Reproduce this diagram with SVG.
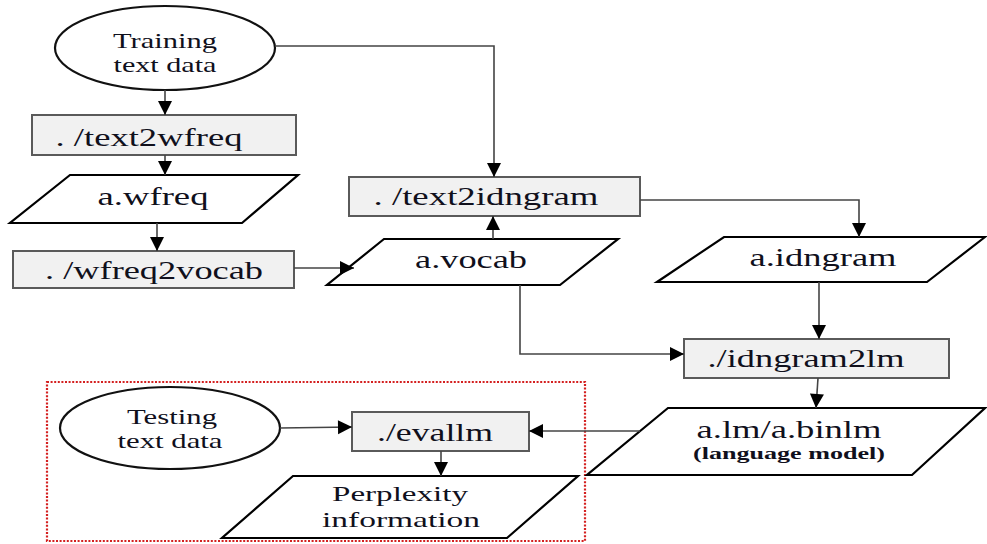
<svg xmlns="http://www.w3.org/2000/svg" width="987" height="544" viewBox="0 0 987 544" font-family="'Liberation Serif', Tinos, 'Times New Roman', Times, serif">
  <defs>
    <marker id="arrow" markerUnits="userSpaceOnUse" markerWidth="16" markerHeight="16" viewBox="0 0 16 16" refX="15" refY="8" orient="auto">
      <path d="M1,1 L15,8 L1,15 Z" fill="#000"/>
    </marker>
    <style>
      text { font-family: 'Liberation Serif', Tinos, 'Times New Roman', Times, serif; fill: #10101c; text-anchor: middle; }
      .lbl { font-size: 26px; }
      .sm { font-size: 22px; }
      .note { font-size: 17px; font-weight: bold; }
      .proc { fill: #f1f1f1; stroke: #5a5a5a; stroke-width: 2; }
      .data { fill: #fff; stroke: #000; stroke-width: 2.2; stroke-linejoin: miter; }
      .term { fill: #fff; stroke: #111; stroke-width: 2.2; }
      .conn { fill: none; stroke: #444; stroke-width: 1.6; marker-end: url(#arrow); }
      .group { fill: none; stroke: #d42020; stroke-width: 2.2; stroke-dasharray: 2 1.6; }
    </style>
  </defs>

  <rect id="test-region" class="group" x="47" y="382" width="538" height="159"/>

  <g id="training-data">
    <ellipse class="term" cx="165" cy="48" rx="110" ry="42"/>
    <text class="sm" x="165" y="48" textLength="104" lengthAdjust="spacingAndGlyphs">Training</text>
    <text class="sm" x="165" y="72" textLength="103" lengthAdjust="spacingAndGlyphs">text data</text>
  </g>

  <g id="text2wfreq">
    <rect class="proc" x="32" y="115" width="264" height="40"/>
    <text class="lbl" x="149" y="146" textLength="187" lengthAdjust="spacingAndGlyphs">. /text2wfreq</text>
  </g>

  <g id="wfreq">
    <polygon class="data" points="70,175 298,175 242,223 10,223"/>
    <text class="lbl" x="153" y="205" textLength="111" lengthAdjust="spacingAndGlyphs">a.wfreq</text>
  </g>

  <g id="wfreq2vocab">
    <rect class="proc" x="13" y="251" width="281" height="37"/>
    <text class="lbl" x="154" y="279" textLength="218" lengthAdjust="spacingAndGlyphs">. /wfreq2vocab</text>
  </g>

  <g id="text2idngram">
    <rect class="proc" x="349" y="177" width="291" height="39"/>
    <text class="lbl" x="486" y="205" textLength="225" lengthAdjust="spacingAndGlyphs">. /text2idngram</text>
  </g>

  <g id="vocab">
    <polygon class="data" points="384,239 618,239 560,285 327,285"/>
    <text class="lbl" x="471" y="268" textLength="112" lengthAdjust="spacingAndGlyphs">a.vocab</text>
  </g>

  <g id="idngram">
    <polygon class="data" points="724,237 985,237 927,282 657,282"/>
    <text class="lbl" x="823" y="266" textLength="147" lengthAdjust="spacingAndGlyphs">a.idngram</text>
  </g>

  <g id="idngram2lm">
    <rect class="proc" x="684" y="339" width="265" height="39"/>
    <text class="lbl" x="806" y="367" textLength="197" lengthAdjust="spacingAndGlyphs">./idngram2lm</text>
  </g>

  <g id="language-model">
    <polygon class="data" points="668,408 985,408 912,475 587,475"/>
    <text class="lbl" x="789" y="438" textLength="185" lengthAdjust="spacingAndGlyphs">a.lm/a.binlm</text>
    <text class="note" x="789" y="459" textLength="192" lengthAdjust="spacingAndGlyphs">(language model)</text>
  </g>

  <g id="testing-data">
    <ellipse class="term" cx="170" cy="428" rx="110" ry="41"/>
    <text class="sm" x="172" y="424" textLength="90" lengthAdjust="spacingAndGlyphs">Testing</text>
    <text class="sm" x="170" y="448" textLength="105" lengthAdjust="spacingAndGlyphs">text data</text>
  </g>

  <g id="evallm">
    <rect class="proc" x="352" y="412" width="177" height="39"/>
    <text class="lbl" x="435" y="441" textLength="116" lengthAdjust="spacingAndGlyphs">./evallm</text>
  </g>

  <g id="perplexity">
    <polygon class="data" points="293,476 578,476 507,538 222,538"/>
    <text class="sm" x="400" y="501" textLength="136" lengthAdjust="spacingAndGlyphs">Perplexity</text>
    <text class="sm" x="401" y="527" textLength="158" lengthAdjust="spacingAndGlyphs">information</text>
  </g>

  <g id="connectors">
    <path class="conn" d="M165,90 V115"/>
    <path class="conn" d="M165,155 V175"/>
    <path class="conn" d="M157,223 V251"/>
    <path class="conn" d="M294,268 H354"/>
    <path class="conn" d="M275,46 H494 V177"/>
    <path class="conn" d="M493,239 V216"/>
    <path class="conn" d="M640,200 H859 V237"/>
    <path class="conn" d="M819,282 V339"/>
    <path class="conn" d="M520,285 V354 H684"/>
    <path class="conn" d="M818,378 L816,408"/>
    <path class="conn" d="M640,431 H529"/>
    <path class="conn" d="M280,428 L352,427"/>
    <path class="conn" d="M441,451 V476"/>
  </g>
</svg>
